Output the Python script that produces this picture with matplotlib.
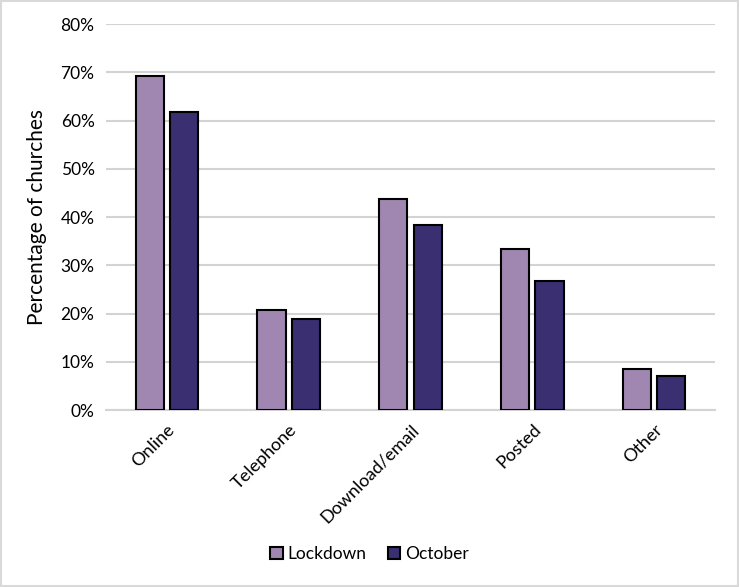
import matplotlib.pyplot as plt
import numpy as np
from matplotlib.patches import Rectangle

plt.rcParams['font.family'] = ['Lato', 'DejaVu Sans']

categories = ['Online', 'Telephone', 'Download/email', 'Posted', 'Other']
lockdown = [69.3, 20.8, 43.8, 33.4, 8.6]
october = [61.8, 18.9, 38.4, 26.8, 7.1]
yticks = [0, 10, 20, 30, 40, 50, 60, 70, 80]

fig = plt.figure(figsize=(7.39, 5.87), dpi=100)
ax = fig.add_axes([0.143, 0.3015, 0.825, 0.6575])

x = np.arange(len(categories))
w = 0.23
gap = 0.05
ax.bar(x - (w + gap) / 2, lockdown, w, color='#A087B1', edgecolor='black',
       linewidth=1.5, label='Lockdown', zorder=3)
ax.bar(x + (w + gap) / 2, october, w, color='#3A2F70', edgecolor='black',
       linewidth=1.5, label='October', zorder=3)

ax.set_xlim(-0.5, len(categories) - 0.5)
ax.set_ylim(0, 80)
ax.set_yticks(yticks)
ax.set_yticklabels([f'{v}%' for v in yticks], fontsize=12.5)
ax.set_xticks(x)
ax.set_xticklabels(categories, rotation=45, ha='right', rotation_mode='anchor', fontsize=13)
ax.tick_params(length=0, pad=8)
ax.grid(axis='y', color='#D3D3D3', linewidth=1.5, zorder=0)
for s in ['top', 'right', 'left']:
    ax.spines[s].set_visible(False)
ax.spines['bottom'].set_color('#D3D3D3')
ax.spines['bottom'].set_linewidth(1.5)
ax.set_ylabel('Percentage of churches', fontsize=15, labelpad=10)

fig.legend(loc='center', bbox_to_anchor=(0.5, 0.056), ncol=2, frameon=False,
           fontsize=12.5, handlelength=0.7, handleheight=0.7, handletextpad=0.3,
           columnspacing=1.2)

fig.patches.append(Rectangle((0.001, 0.001), 0.997, 0.997, transform=fig.transFigure,
                             fill=False, edgecolor='#D9D9D9', linewidth=1.5))

fig.savefig('out.png', dpi=100)
